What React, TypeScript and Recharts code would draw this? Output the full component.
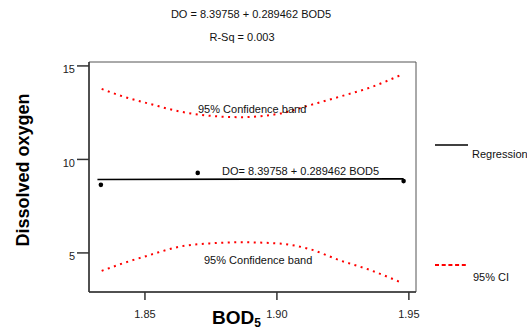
import {
  ComposedChart,
  Line,
  Scatter,
  XAxis,
  YAxis,
  ReferenceArea,
} from 'recharts';

// observations (BOD5 vs DO)
const obsBod = [1.8333, 1.87, 1.948];
const obsDo = [8.64, 9.28, 8.84];

// fitted regression line, end points
const fitBod = [1.832, 1.948];
const fitDo = [8.93, 8.96];

// 95% confidence band
const bandBod = [1.8336, 1.8418, 1.8519, 1.8633, 1.8758, 1.886, 1.9011, 1.9125, 1.9239, 1.9352, 1.9477];
const upperDo = [13.77, 13.36, 12.97, 12.56, 12.32, 12.26, 12.45, 12.9, 13.36, 13.84, 14.56];
const lowerDo = [4.04, 4.45, 4.89, 5.34, 5.52, 5.57, 5.5, 5.2, 4.6, 4.09, 3.38];

const xTicks = [1.85, 1.9, 1.95];
const yTicks = [5, 10, 15];
const xDomain = [1.8288, 1.9527];
const yDomain = [2.91, 15.21];

const points = obsBod.map((x, i) => ({ x, y: obsDo[i] }));
const fit = fitBod.map((x, i) => ({ x, y: fitDo[i] }));
const upper = bandBod.map((x, i) => ({ x, y: upperDo[i] }));
const lower = bandBod.map((x, i) => ({ x, y: lowerDo[i] }));

const FONT = '"Liberation Sans", Arial, sans-serif';
const RED = '#ff0000';

function XTick({ x, y, payload }: any) {
  return (
    <text x={x} y={y + 16} textAnchor="middle" fontSize={11} fontFamily={FONT} fill="#222">
      {Number(payload.value).toFixed(2)}
    </text>
  );
}

function YTick({ x, y, payload }: any) {
  return (
    <text x={x} y={y + 7.5} textAnchor="end" fontSize={11} fontFamily={FONT} fill="#222">
      {payload.value}
    </text>
  );
}

function Dot({ cx, cy }: any) {
  return <circle cx={cx} cy={cy} r={2.3} fill="#000" />;
}

export default function App() {
  return (
    <div style={{ position: 'absolute', left: 0, top: 0, width: 527, height: 328, background: '#fff' }}>
      <ComposedChart
        width={527}
        height={328}
        margin={{ top: 62, right: 111, bottom: 0, left: 0 }}
      >
        <ReferenceArea
          x1={xDomain[0]}
          x2={xDomain[1]}
          y1={yDomain[0]}
          y2={yDomain[1]}
          fill="none"
          stroke="#555"
          strokeWidth={1}
          ifOverflow="visible"
        />
        <XAxis
          type="number"
          dataKey="x"
          domain={xDomain}
          ticks={xTicks}
          height={36}
          tickSize={8}
          stroke="#333"
          strokeWidth={1.5}
          tick={<XTick />}
          allowDataOverflow
        />
        <YAxis
          type="number"
          dataKey="y"
          domain={yDomain}
          ticks={yTicks}
          width={89}
          tickSize={12}
          stroke="#333"
          strokeWidth={1.5}
          tick={<YTick />}
          allowDataOverflow
        />
        <Line
          data={upper}
          dataKey="y"
          type="monotone"
          stroke={RED}
          strokeWidth={2}
          strokeDasharray="2 4.5"
          dot={false}
          isAnimationActive={false}
        />
        <Line
          data={lower}
          dataKey="y"
          type="monotone"
          stroke={RED}
          strokeWidth={2}
          strokeDasharray="2 4.5"
          dot={false}
          isAnimationActive={false}
        />
        <Line
          data={fit}
          dataKey="y"
          type="linear"
          stroke="#000"
          strokeWidth={1.6}
          dot={false}
          isAnimationActive={false}
        />
        <Scatter data={points} dataKey="y" shape={<Dot />} isAnimationActive={false} />
      </ComposedChart>

      <svg
        width={527}
        height={328}
        style={{ position: 'absolute', left: 0, top: 0, pointerEvents: 'none' }}
        fontFamily={FONT}
      >
        <text x={251} y={18} textAnchor="middle" fontSize={11} fill="#111">
          DO = 8.39758 + 0.289462 BOD5
        </text>
        <text x={242} y={40.5} textAnchor="middle" fontSize={11} fill="#111">
          R-Sq = 0.003
        </text>

        <text x={198} y={113} fontSize={11} fill="#111">95% Confidence band</text>
        <text x={222} y={175} fontSize={11} fill="#111">DO= 8.39758 + 0.289462 BOD5</text>
        <text x={204} y={263.5} fontSize={11} fill="#111">95% Confidence band</text>

        <text
          transform="translate(29,170) rotate(-90)"
          textAnchor="middle"
          fontSize={18}
          fontWeight="bold"
          fill="#000"
        >
          Dissolved oxygen
        </text>
        <text x={212} y={323.5} fontSize={19} fontWeight="bold" fill="#000">
          BOD<tspan fontSize={12} dy={3}>5</tspan>
        </text>

        <line x1={435} x2={468} y1={145} y2={145} stroke="#000" strokeWidth={1.6} />
        <text x={472} y={157.5} fontSize={11} fill="#111">Regression</text>
        <line x1={435} x2={466} y1={265} y2={265} stroke={RED} strokeWidth={2} strokeDasharray="4 2.7" />
        <text x={473} y={281} fontSize={11} fill="#111">95% CI</text>
      </svg>
    </div>
  );
}
